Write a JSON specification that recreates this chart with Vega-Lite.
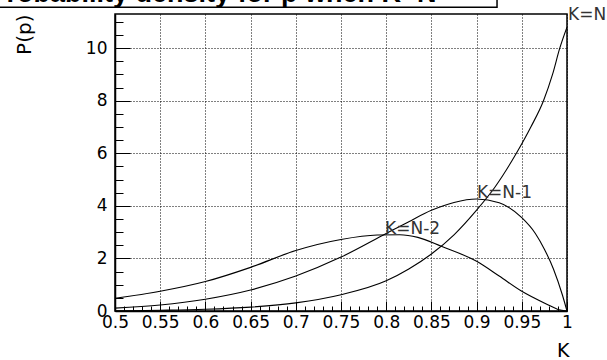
{
  "$schema": "https://vega.github.io/schema/vega-lite/v6.json",
  "width": 452,
  "height": 297,
  "autosize": "none",
  "padding": {"left": 115, "top": 14, "right": 40, "bottom": 49},
  "background": "white",
  "config": {
    "view": {"stroke": "black", "strokeWidth": 1.5},
    "font": "DejaVu Sans"
  },
  "datasets": {
    "curves": [
      {"curve": "K=N", "p": 0.5, "P": 0.005},
      {"curve": "K=N", "p": 0.55, "P": 0.028},
      {"curve": "K=N", "p": 0.6, "P": 0.066},
      {"curve": "K=N", "p": 0.65, "P": 0.148},
      {"curve": "K=N", "p": 0.7, "P": 0.31},
      {"curve": "K=N", "p": 0.75, "P": 0.62},
      {"curve": "K=N", "p": 0.8, "P": 1.15},
      {"curve": "K=N", "p": 0.825, "P": 1.6},
      {"curve": "K=N", "p": 0.85, "P": 2.17},
      {"curve": "K=N", "p": 0.875, "P": 2.9},
      {"curve": "K=N", "p": 0.9, "P": 3.84},
      {"curve": "K=N", "p": 0.92, "P": 4.7},
      {"curve": "K=N", "p": 0.944, "P": 6.0},
      {"curve": "K=N", "p": 0.96, "P": 7.0},
      {"curve": "K=N", "p": 0.974, "P": 8.0},
      {"curve": "K=N", "p": 0.984, "P": 9.0},
      {"curve": "K=N", "p": 0.992, "P": 10.0},
      {"curve": "K=N", "p": 1.0, "P": 10.8},
      {"curve": "K=N-1", "p": 0.5, "P": 0.11},
      {"curve": "K=N-1", "p": 0.55, "P": 0.23},
      {"curve": "K=N-1", "p": 0.6, "P": 0.45},
      {"curve": "K=N-1", "p": 0.65, "P": 0.8},
      {"curve": "K=N-1", "p": 0.7, "P": 1.33},
      {"curve": "K=N-1", "p": 0.75, "P": 2.05},
      {"curve": "K=N-1", "p": 0.8, "P": 2.95},
      {"curve": "K=N-1", "p": 0.825, "P": 3.4},
      {"curve": "K=N-1", "p": 0.85, "P": 3.83},
      {"curve": "K=N-1", "p": 0.875, "P": 4.13},
      {"curve": "K=N-1", "p": 0.9, "P": 4.26},
      {"curve": "K=N-1", "p": 0.925, "P": 4.12},
      {"curve": "K=N-1", "p": 0.95, "P": 3.55},
      {"curve": "K=N-1", "p": 0.965, "P": 2.95},
      {"curve": "K=N-1", "p": 0.975, "P": 2.35},
      {"curve": "K=N-1", "p": 0.985, "P": 1.6},
      {"curve": "K=N-1", "p": 0.995, "P": 0.6},
      {"curve": "K=N-1", "p": 1.0, "P": 0.0},
      {"curve": "K=N-2", "p": 0.5, "P": 0.48},
      {"curve": "K=N-2", "p": 0.55, "P": 0.75},
      {"curve": "K=N-2", "p": 0.6, "P": 1.12},
      {"curve": "K=N-2", "p": 0.65, "P": 1.66},
      {"curve": "K=N-2", "p": 0.7, "P": 2.3},
      {"curve": "K=N-2", "p": 0.75, "P": 2.72},
      {"curve": "K=N-2", "p": 0.79, "P": 2.89},
      {"curve": "K=N-2", "p": 0.815, "P": 2.9},
      {"curve": "K=N-2", "p": 0.835, "P": 2.8},
      {"curve": "K=N-2", "p": 0.861, "P": 2.46},
      {"curve": "K=N-2", "p": 0.9, "P": 1.89},
      {"curve": "K=N-2", "p": 0.925, "P": 1.33},
      {"curve": "K=N-2", "p": 0.95, "P": 0.75},
      {"curve": "K=N-2", "p": 0.98, "P": 0.22},
      {"curve": "K=N-2", "p": 0.99, "P": 0.06},
      {"curve": "K=N-2", "p": 1.0, "P": 0.0}
    ],
    "labels": [
      {"label": "K=N", "p": 1.0011, "P": 11.28},
      {"label": "K=N-1", "p": 0.9004, "P": 4.5},
      {"label": "K=N-2", "p": 0.7987, "P": 3.13}
    ],
    "heading": [
      {"text": "Probability density for p when K=N"}
    ]
  },
  "layer": [
    {
      "data": {"name": "curves"},
      "mark": {"type": "line", "interpolate": "monotone", "color": "black", "strokeWidth": 1.1, "clip": true},
      "encoding": {
        "x": {
          "field": "p", "type": "quantitative",
          "scale": {"domain": [0.5, 1.0], "nice": false, "zero": false},
          "axis": {
            "title": "K",
            "titleFont": "DejaVu Sans", "titleFontSize": 19, "titleFontWeight": "normal", "titleColor": "black",
            "titleAnchor": "end", "titleAlign": "right", "titleBaseline": "alphabetic",
            "titleX": 454, "titleY": 45,
            "tickCount": 1000,
            "values": [0.5,0.51,0.52,0.53,0.54,0.55,0.56,0.57,0.58,0.59,0.6,0.61,0.62,0.63,0.64,0.65,0.66,0.67,0.68,0.69,0.7,0.71,0.72,0.73,0.74,0.75,0.76,0.77,0.78,0.79,0.8,0.81,0.82,0.83,0.84,0.85,0.86,0.87,0.88,0.89,0.9,0.91,0.92,0.93,0.94,0.95,0.96,0.97,0.98,0.99,1.0],
            "labelExpr": "abs(datum.value*20 - round(datum.value*20)) < 0.001 ? format(datum.value, '~g') : ''",
            "labelOverlap": false, "labelFlush": false, "labelBound": false,
            "labelFont": "DejaVu Sans", "labelFontSize": 17, "labelColor": "black",
            "labelPadding": 13,
            "domainColor": "black", "domainWidth": 1.5,
            "tickColor": "black", "tickWidth": 1,
            "tickSize": {"condition": {"test": "abs(datum.value*20 - round(datum.value*20)) < 0.001", "value": -10}, "value": -5},
            "grid": true, "gridColor": "black", "gridDash": [1, 2], "gridWidth": 1,
            "gridOpacity": {"condition": {"test": "abs(datum.value*20 - round(datum.value*20)) < 0.001", "value": 1}, "value": 0}
          }
        },
        "y": {
          "field": "P", "type": "quantitative",
          "scale": {"domain": [0, 11.3], "nice": false},
          "axis": {
            "title": "P(p)",
            "titleFont": "DejaVu Sans", "titleFontSize": 20, "titleFontWeight": "normal", "titleColor": "black",
            "titleAngle": -90, "titleAlign": "right", "titleBaseline": "middle",
            "titleX": -91, "titleY": 0,
            "tickCount": 1000,
            "values": [0,0.5,1,1.5,2,2.5,3,3.5,4,4.5,5,5.5,6,6.5,7,7.5,8,8.5,9,9.5,10,10.5,11],
            "labelExpr": "datum.value % 2 == 0 ? format(datum.value, 'd') : ''",
            "labelOverlap": false, "labelFlush": false, "labelBound": false,
            "labelFont": "DejaVu Sans", "labelFontSize": 17, "labelColor": "black",
            "labelPadding": 23,
            "domainColor": "black", "domainWidth": 1.5,
            "tickColor": "black", "tickWidth": 1,
            "tickSize": {"condition": {"test": "datum.value % 2 == 0", "value": -15}, "value": -8},
            "grid": true, "gridColor": "black", "gridDash": [1, 2], "gridWidth": 1,
            "gridOpacity": {"condition": {"test": "datum.value % 2 == 0", "value": 1}, "value": 0}
          }
        },
        "detail": {"field": "curve"}
      }
    },
    {
      "data": {"name": "labels"},
      "mark": {"type": "text", "align": "left", "baseline": "middle", "font": "DejaVu Sans", "fontSize": 17, "color": "#333"},
      "encoding": {
        "x": {"field": "p", "type": "quantitative"},
        "y": {"field": "P", "type": "quantitative"},
        "text": {"field": "label"}
      }
    },
    {
      "data": {"name": "heading"},
      "mark": {"type": "rect", "fill": "white", "stroke": "black", "strokeWidth": 1.5, "clip": false},
      "encoding": {
        "x": {"datum": 0.3},
        "x2": {"datum": 0.9226},
        "y": {"datum": 11.56},
        "y2": {"datum": 13.5}
      }
    },
    {
      "data": {"name": "heading"},
      "mark": {"type": "text", "align": "left", "baseline": "alphabetic", "font": "Liberation Sans", "fontWeight": "bold", "fontSize": 27, "color": "black", "dx": -8},
      "encoding": {
        "x": {"datum": 0.369},
        "y": {"datum": 11.76},
        "text": {"field": "text"}
      }
    }
  ]
}
